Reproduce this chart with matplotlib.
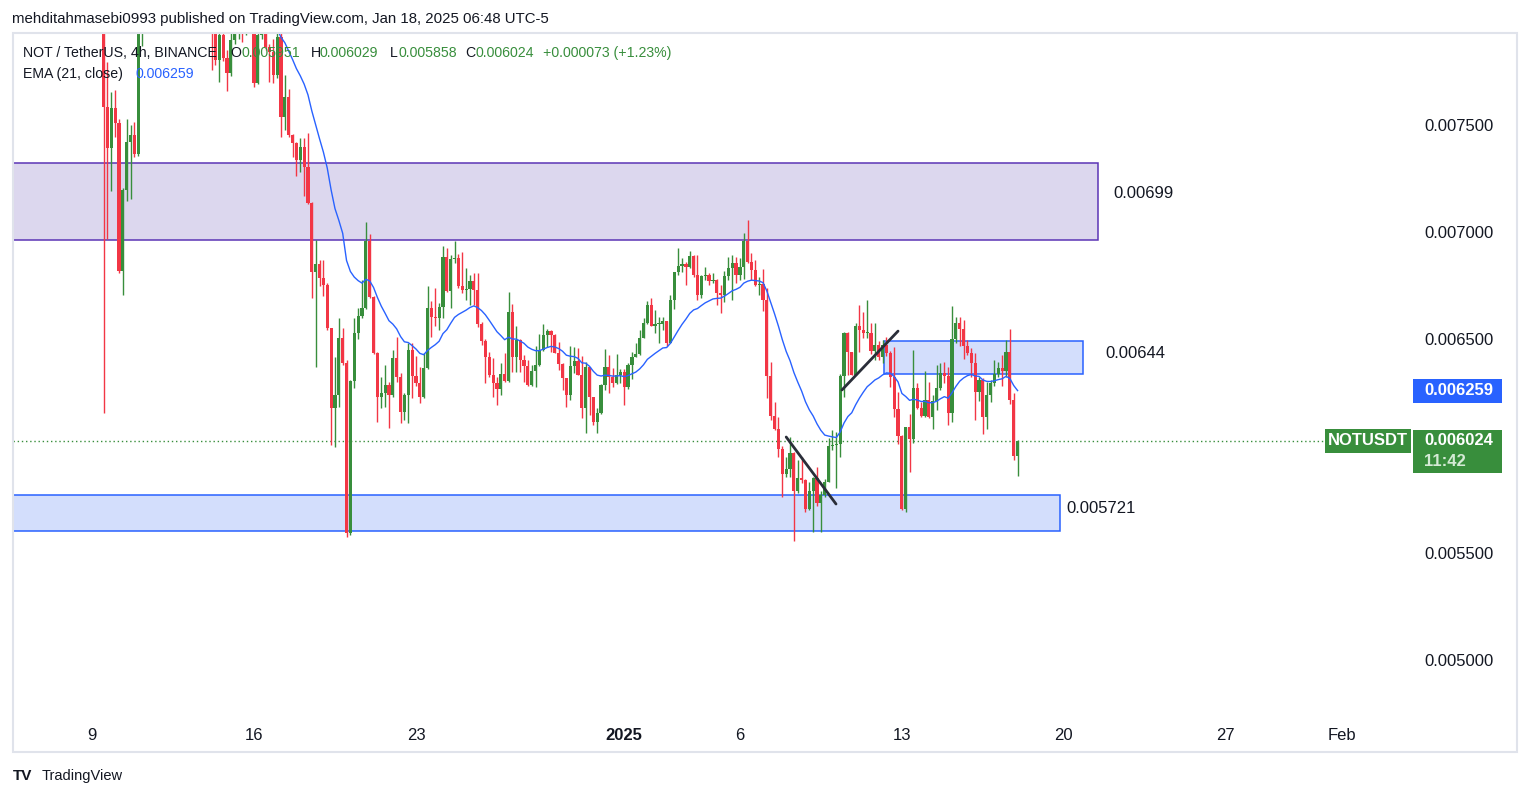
import matplotlib
matplotlib.use('Agg')
import matplotlib.pyplot as plt
import matplotlib.dates as mdates
from matplotlib.patches import Rectangle
import numpy as np
import pandas as pd

plt.rcParams['font.family'] = ['Liberation Sans', 'DejaVu Sans']

# NOT/USDT 4h candles, prices in micro-USDT (x 1e-6)
opens = [8000, 7584, 7393, 7579, 7510, 6818, 7196, 7420, 7453, 7364,
         8000, 8100, 8300, 8420, 8350, 8450, 8620, 8500, 8380, 8460,
         8400, 8260, 8320, 8180, 8240, 8120, 8200, 8080, 8120, 8020,
         7804, 7920, 7813, 7743, 7897, 7940, 8000, 7960, 8060, 8000,
         7696, 7920, 7990, 7864, 7840, 7734, 7910, 7537, 7630, 7453,
         7416, 7336, 7397, 7304, 7136, 6813, 6850, 6785, 6752, 6551,
         6178, 6238, 6505, 6388, 5594, 6304, 6528, 6607, 6645, 6958,
         6696, 6435, 6229, 6248, 6285, 6238, 6411, 6322, 6159, 6238,
         6449, 6327, 6294, 6229, 6364, 6645, 6603, 6600, 6650, 6883,
         6724, 6874, 6878, 6750, 6729, 6734, 6771, 6729, 6570, 6491,
         6416, 6332, 6294, 6266, 6336, 6303, 6626, 6416, 6495, 6402,
         6374, 6285, 6350, 6378, 6449, 6519, 6537, 6519, 6435, 6383,
         6318, 6238, 6374, 6397, 6332, 6178, 6369, 6229, 6112, 6154,
         6285, 6369, 6322, 6294, 6332, 6346, 6276, 6380, 6416, 6430,
         6505, 6575, 6659, 6561, 6570, 6572, 6584, 6481, 6682, 6813,
         6841, 6850, 6836, 6888, 6799, 6706, 6794, 6797, 6771, 6776,
         6715, 6705, 6794, 6832, 6855, 6799, 6836, 6958, 6860, 6822,
         6752, 6755, 6682, 6327, 6140, 6079, 5986, 5869, 5893, 5967,
         5790, 5851, 5841, 5706, 5790, 5851, 5734, 5771, 5832, 6000,
         6005, 6009, 6327, 6528, 6439, 6332, 6561, 6542, 6528, 6530,
         6444, 6472, 6416, 6472, 6435, 6322, 6173, 6047, 5706, 6089,
         6033, 6271, 6178, 6140, 6215, 6136, 6210, 6271, 6341, 6327,
         6154, 6500, 6576, 6548, 6469, 6436, 6389, 6254, 6310, 6137,
         6240, 6296, 6338, 6366, 6352, 6441, 6215, 5951]
highs = [8050, 7794, 7654, 7664, 7530, 7206, 7530, 7500, 7514, 8020,
         8150, 8350, 8500, 8600, 8480, 8700, 8750, 8580, 8520, 8600,
         8480, 8400, 8380, 8300, 8320, 8250, 8260, 8180, 8200, 8080,
         7980, 8000, 7850, 7980, 8050, 8100, 8080, 8120, 8100, 8030,
         7950, 8050, 8040, 7880, 7900, 7960, 7950, 7734, 7668, 7460,
         7420, 7439, 7439, 7463, 7140, 6963, 6870, 6870, 6760, 6551,
         6416, 6598, 6551, 6400, 6310, 6598, 6645, 6776, 7047, 6991,
         6700, 6440, 6322, 6378, 6300, 6449, 6510, 6340, 6250, 6481,
         6481, 6420, 6369, 6435, 6748, 6678, 6738, 6668, 6935, 6925,
         6893, 6958, 6897, 6907, 6832, 6799, 6808, 6808, 6580, 6500,
         6439, 6411, 6322, 6388, 6435, 6720, 6664, 6561, 6500, 6425,
         6400, 6378, 6467, 6523, 6570, 6547, 6542, 6523, 6486, 6390,
         6320, 6467, 6463, 6458, 6420, 6392, 6370, 6230, 6178, 6290,
         6453, 6425, 6364, 6430, 6360, 6360, 6388, 6439, 6481, 6542,
         6598, 6678, 6692, 6636, 6603, 6603, 6584, 6706, 6813, 6925,
         6879, 6860, 6911, 6893, 6893, 6799, 6836, 6808, 6808, 6780,
         6752, 6820, 6883, 6893, 6883, 6879, 6995, 7056, 6902, 6869,
         6790, 6827, 6740, 6392, 6206, 6136, 6000, 5949, 6042, 5970,
         5935, 5949, 5845, 5832, 5855, 5902, 5790, 5846, 6037, 6075,
         6065, 6336, 6533, 6533, 6440, 6575, 6659, 6626, 6682, 6575,
         6575, 6491, 6495, 6510, 6444, 6463, 6252, 6050, 6089, 6150,
         6449, 6294, 6206, 6350, 6300, 6238, 6378, 6388, 6392, 6369,
         6654, 6603, 6603, 6589, 6495, 6458, 6435, 6322, 6318, 6300,
         6310, 6402, 6392, 6425, 6495, 6547, 6248, 6029]
lows = [6154, 6967, 7192, 7444, 6810, 6706, 7145, 7154, 7350, 7355,
        7870, 8050, 8200, 8300, 8220, 8380, 8450, 8320, 8250, 8350,
        8200, 8150, 8120, 8050, 8080, 8000, 8020, 7980, 7757, 7780,
        7700, 7800, 7659, 7730, 7880, 7900, 7890, 7920, 7940, 7678,
        7690, 7900, 7850, 7700, 7697, 7720, 7444, 7477, 7444, 7350,
        7262, 7280, 7168, 7130, 6692, 6369, 6750, 6700, 6540, 6005,
        5995, 6182, 6380, 5575, 5585, 6270, 6500, 6600, 6640, 6690,
        6430, 6112, 6178, 6180, 6084, 6230, 6300, 6108, 6120, 6108,
        6224, 6280, 6201, 6224, 6360, 6509, 6561, 6542, 6598, 6720,
        6645, 6855, 6740, 6715, 6682, 6659, 6659, 6556, 6472, 6294,
        6322, 6229, 6192, 6238, 6300, 6300, 6346, 6346, 6346, 6299,
        6280, 6280, 6276, 6375, 6445, 6463, 6439, 6435, 6355, 6262,
        6182, 6215, 6341, 6332, 6131, 6061, 6145, 6098, 6061, 6150,
        6262, 6248, 6276, 6290, 6294, 6192, 6266, 6313, 6416, 6425,
        6505, 6570, 6560, 6528, 6481, 6542, 6467, 6480, 6640, 6800,
        6813, 6752, 6830, 6790, 6682, 6692, 6776, 6752, 6760, 6659,
        6620, 6673, 6776, 6682, 6762, 6776, 6780, 6855, 6776, 6748,
        6706, 6631, 6224, 6121, 6075, 5949, 5762, 5855, 5855, 5556,
        5780, 5827, 5692, 5701, 5598, 5720, 5598, 5762, 5830, 5981,
        5804, 5949, 6229, 6332, 6330, 6330, 6439, 6505, 6505, 6430,
        6402, 6402, 6388, 6420, 6276, 6136, 6009, 5701, 5692, 5878,
        6014, 6173, 6135, 6136, 6131, 6079, 6168, 6262, 6294, 6098,
        6112, 6481, 6467, 6407, 6425, 6322, 6121, 6210, 6056, 6079,
        6206, 6280, 6322, 6280, 6322, 6196, 5935, 5858]
closes = [7584, 7393, 7579, 7510, 6818, 7196, 7420, 7453, 7364, 8000,
          8100, 8300, 8420, 8350, 8450, 8620, 8500, 8380, 8460, 8400,
          8260, 8320, 8180, 8240, 8120, 8200, 8080, 8120, 8020, 7804,
          7920, 7813, 7743, 7897, 7940, 8000, 7960, 8060, 8000, 7696,
          7920, 7990, 7864, 7840, 7734, 7910, 7537, 7630, 7453, 7416,
          7336, 7397, 7304, 7136, 6813, 6850, 6785, 6752, 6551, 6178,
          6238, 6505, 6388, 5594, 6304, 6528, 6607, 6645, 6958, 6696,
          6435, 6229, 6248, 6285, 6238, 6411, 6322, 6159, 6238, 6449,
          6327, 6294, 6229, 6364, 6645, 6603, 6600, 6650, 6883, 6724,
          6874, 6878, 6750, 6729, 6734, 6771, 6729, 6570, 6491, 6416,
          6332, 6294, 6266, 6336, 6303, 6626, 6416, 6495, 6402, 6374,
          6285, 6350, 6378, 6449, 6519, 6537, 6519, 6435, 6383, 6318,
          6238, 6374, 6397, 6332, 6178, 6369, 6229, 6112, 6154, 6285,
          6369, 6322, 6294, 6332, 6346, 6276, 6380, 6416, 6430, 6505,
          6575, 6659, 6561, 6570, 6572, 6584, 6481, 6682, 6813, 6841,
          6850, 6836, 6888, 6799, 6706, 6794, 6797, 6771, 6776, 6715,
          6705, 6794, 6832, 6855, 6799, 6836, 6958, 6860, 6822, 6752,
          6755, 6682, 6327, 6140, 6079, 5986, 5869, 5893, 5967, 5790,
          5851, 5841, 5706, 5790, 5851, 5734, 5771, 5832, 6000, 6005,
          6009, 6327, 6528, 6439, 6332, 6561, 6542, 6528, 6530, 6444,
          6472, 6416, 6472, 6435, 6322, 6173, 6047, 5706, 6089, 6033,
          6271, 6178, 6140, 6215, 6136, 6210, 6271, 6341, 6327, 6154,
          6500, 6576, 6548, 6469, 6436, 6389, 6254, 6310, 6137, 6240,
          6296, 6338, 6366, 6352, 6441, 6215, 5951, 6024]
last_bar = '2025-01-18 03:00'
ema_before = 0.0090  # EMA(21) carried in from bars before the window (off-chart)

# horizontal zones: (left, right, bottom, top)
zone_purple = ('2024-12-01', '2025-01-21 14:20', 0.006963, 0.007322)
zone_mid = ('2025-01-12 08:30', '2025-01-20 22:55', 0.006336, 0.006491)
zone_low = ('2024-12-01', '2025-01-19 22:55', 0.005603, 0.005771)
zone_labels = [('0.00699', '2025-01-22 05:50', 0.007182),
               ('0.00644', '2025-01-21 21:45', 0.006430),
               ('0.005721', '2025-01-20 05:10', 0.005706)]
# drawn trend lines
trend_lines = [(('2025-01-08 03:00', 0.006042), ('2025-01-10 06:40', 0.005729)),
               (('2025-01-10 12:50', 0.006262), ('2025-01-12 23:00', 0.006537))]

price_ticks = [0.0050, 0.0055, 0.0065, 0.0070, 0.0075]
date_ticks = ['2024-12-09 03:00', '2024-12-16 03:00', '2024-12-23 03:00',
              '2025-01-01 03:00', '2025-01-06 03:00', '2025-01-13 03:00',
              '2025-01-20 03:00', '2025-01-27 03:00', '2025-02-01 03:00']
date_labels = ['9', '16', '23', '2025', '6', '13', '20', '27', 'Feb']

GREEN = '#388e3c'
RED = '#f23645'
BLUE = '#2962ff'
TXT = '#131722'

W, H = 1530, 798


def fpos(x, y):
    return x / W, 1 - y / H


def dn(s):
    return mdates.date2num(pd.Timestamp(s))


o = np.array(opens) * 1e-6
h = np.array(highs) * 1e-6
l = np.array(lows) * 1e-6
c = np.array(closes) * 1e-6
times = pd.date_range(end=last_bar, periods=len(c), freq='4h')
t = mdates.date2num(times)

alpha = 2 / (21 + 1)
ema = []
prev = ema_before
for v in c:
    prev = alpha * v + (1 - alpha) * prev
    ema.append(prev)
ema = np.array(ema)

fig = plt.figure(figsize=(W / 100, H / 100), dpi=100)
ax = fig.add_axes([13 / W, 1 - 715 / H, (1410 - 13) / W, (715 - 33) / H])

d0 = dn('2024-12-09 03:00')
day_px = 23.14
ax.set_xlim(d0 - 79 / day_px, d0 + 1318 / day_px)
ax.set_ylim(0.004743, 0.007930)
ppx = (0.007930 - 0.004743) / (715 - 33)

# zones
for z, fc, ec in [(zone_purple, '#dcd7ee', '#5b34b5'),
                  (zone_mid, '#d3defc', BLUE), (zone_low, '#d3defc', BLUE)]:
    x0, x1 = dn(z[0]), dn(z[1])
    ax.add_patch(Rectangle((x0, z[2]), x1 - x0, z[3] - z[2], facecolor=fc,
                           edgecolor=ec, lw=1.1, zorder=1))
for s, xd, yv in zone_labels:
    ax.text(dn(xd), yv, s, fontsize=12, color=TXT, va='center', ha='left', zorder=3)

# candles
col = np.where(c >= o, GREEN, RED)
ax.vlines(t, l, h, colors=col, lw=1.0, zorder=2)
body = np.maximum(np.abs(c - o), 0.9 * ppx)
ax.bar(t, body, bottom=np.minimum(o, c), width=(1 / 6) * 0.82, color=col,
       lw=0, zorder=2)

ax.plot(t, ema, color=BLUE, lw=1.0, zorder=3)

for (a, pa), (b, pb) in trend_lines:
    ax.plot([dn(a), dn(b)], [pa, pb], color='#2a2e39', lw=2,
            solid_capstyle='round', zorder=4)

ax.axhline(c[-1], color=GREEN, lw=1, ls=(0, (1, 2)), zorder=1)

# axes styling
for sp in ax.spines.values():
    sp.set_visible(False)
ax.yaxis.tick_right()
ax.set_yticks(price_ticks)
ax.set_yticklabels([f'{v:.6f}' for v in price_ticks])
ax.tick_params(axis='y', length=0, pad=10, labelsize=12, labelcolor=TXT)
ax.set_xticks([dn(d) for d in date_ticks])
ax.set_xticklabels(date_labels)
ax.tick_params(axis='x', length=0, pad=9, labelsize=12, labelcolor=TXT)
for lab in ax.get_xticklabels():
    if lab.get_text() == '2025':
        lab.set_fontweight('bold')

# price scale labels
ytr = ax.get_yaxis_transform()
axw = 1410 - 13


def afx(xp):
    return (xp - 13) / axw


ax.add_patch(Rectangle((afx(1413), ema[-1] - 12 * ppx), 89 / axw, 24 * ppx,
                       transform=ytr, facecolor=BLUE, lw=0, clip_on=False, zorder=6))
ax.text(afx(1424), ema[-1], f'{ema[-1]:.6f}', transform=ytr, color='white',
        fontsize=12, fontweight='bold', va='center', ha='left', clip_on=False, zorder=7)
ax.add_patch(Rectangle((afx(1325), c[-1] - 12 * ppx), 86 / axw, 24 * ppx,
                       transform=ytr, facecolor=GREEN, lw=0, clip_on=False, zorder=6))
ax.text(afx(1368), c[-1], 'NOTUSDT', transform=ytr, color='white',
        fontsize=12, fontweight='bold', va='center', ha='center', clip_on=False, zorder=7)
ax.add_patch(Rectangle((afx(1413), c[-1] - 32 * ppx), 89 / axw, 43 * ppx,
                       transform=ytr, facecolor=GREEN, lw=0, clip_on=False, zorder=6))
ax.text(afx(1424), c[-1], f'{c[-1]:.6f}', transform=ytr, color='white',
        fontsize=12, fontweight='bold', va='center', ha='left', clip_on=False, zorder=7)
ax.text(afx(1424), c[-1] - 21 * ppx, '11:42', transform=ytr, color='#d4ead5',
        fontsize=12, fontweight='bold', va='center', ha='left', clip_on=False, zorder=7)

# panel frame
fig.add_artist(Rectangle(fpos(13, 752), (1517 - 13) / W, (752 - 33) / H,
                         transform=fig.transFigure, fill=False,
                         edgecolor='#e0e3eb', lw=1.5))

# header / legend text
fig.text(*fpos(12, 19), 'mehditahmasebi0993 published on TradingView.com, Jan 18, 2025 06:48 UTC-5',
         fontsize=10.8, color=TXT, va='center')
legend1 = [('NOT / TetherUS, 4h, BINANCE', TXT, 23), ('O', TXT, 230),
           (f'{o[-1]:.6f}', GREEN, 241), ('H', TXT, 311), (f'{h[-1]:.6f}', GREEN, 320),
           ('L', TXT, 390), (f'{l[-1]:.6f}', GREEN, 398), ('C', TXT, 465),
           (f'{c[-1]:.6f}', GREEN, 475),
           (f'+{c[-1] - o[-1]:.6f} (+{(c[-1] / o[-1] - 1) * 100:.2f}%)', GREEN, 543)]
for s, colr, xp in legend1:
    fig.text(*fpos(xp, 53), s, fontsize=10.2, color=colr, va='center')
fig.text(*fpos(23, 74), 'EMA (21, close)', fontsize=10.2, color=TXT, va='center')
fig.text(*fpos(136, 74), f'{ema[-1]:.6f}', fontsize=10.2, color=BLUE, va='center')

fig.text(*fpos(13, 776), 'TV', fontsize=11, fontweight='heavy', color=TXT, va='center')
fig.text(*fpos(42, 776), 'TradingView', fontsize=10.5, color=TXT, va='center')

fig.savefig('out.png', dpi=100, facecolor='white')
